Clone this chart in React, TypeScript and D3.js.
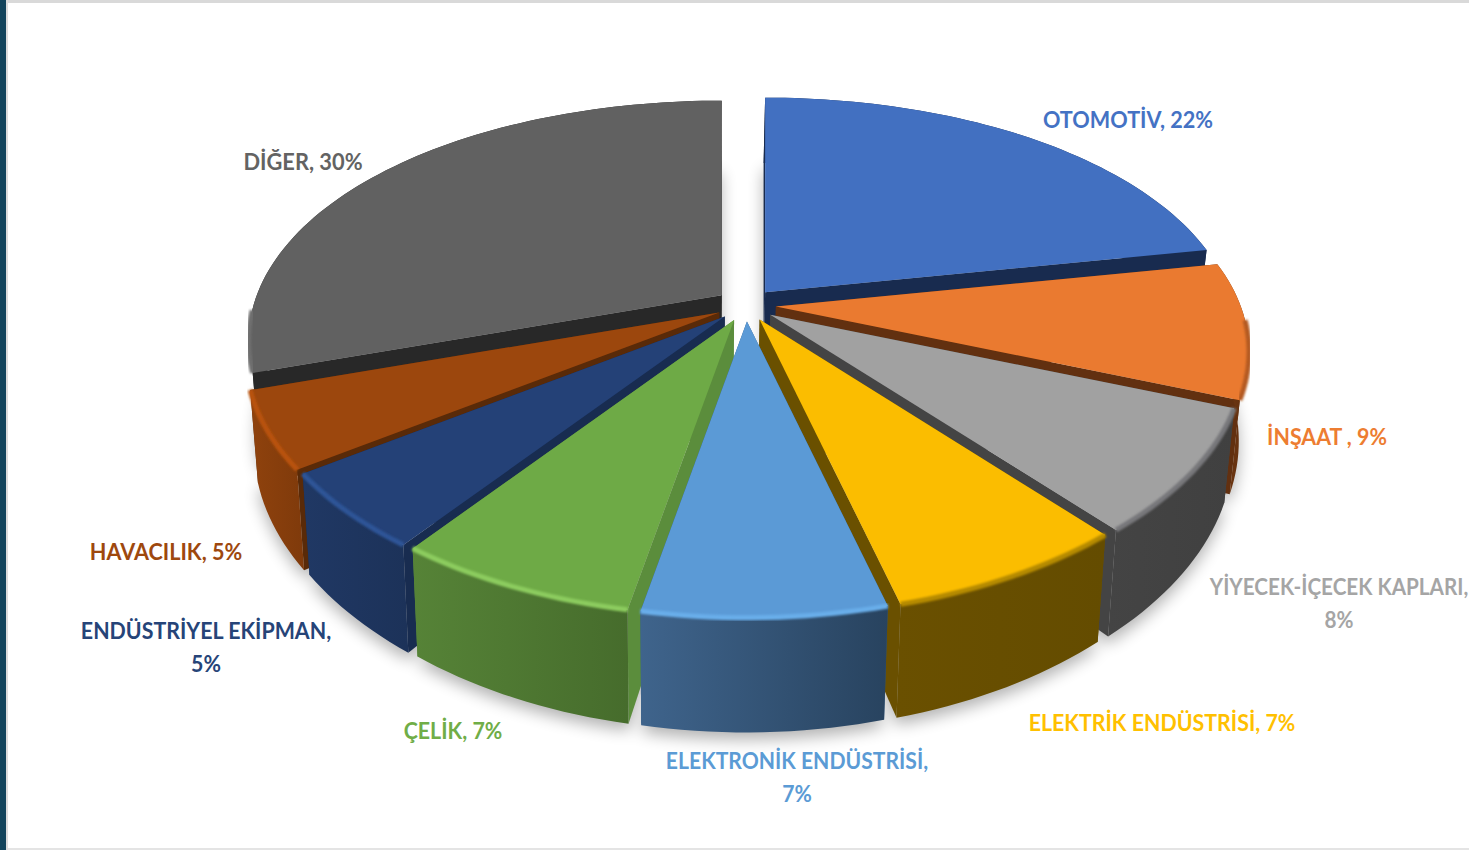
import React from "react";
import * as d3 from "d3";

// Market share by sector, clockwise from twelve o'clock
const sectors = ["OTOMOTİV", "İNŞAAT ", "YİYECEK-İÇECEK KAPLARI", "ELEKTRİK ENDÜSTRİSİ", "ELEKTRONİK ENDÜSTRİSİ", "ÇELİK", "ENDÜSTRİYEL EKİPMAN", "HAVACILIK", "DİĞER"];
const shares = [22, 9, 8, 7, 7, 7, 5, 5, 30];

// Per-slice palette
const topColors = ["#4270c1", "#ea7a30", "#a1a1a1", "#fbbd00", "#5b9ad6", "#6eaa46", "#244177", "#9c470d", "#616161"];
const labelColors = ["#4472c4", "#ed7d31", "#a5a5a5", "#ffc000", "#5b9bd5", "#70ad47", "#264478", "#9e480e", "#636363"];
const sideColors = ["#182b4f", "#623010", "#444444", "#6a5000", "#2f5a85", "#5b8d3c", "#182c50", "#592a08", "#282828"];
const wallLight = ["#182b4f", "#7a3c12", "#444444", "#6a5000", "#3f648c", "#568337", "#203864", "#8f420d", "#282828"];
const wallDark = ["#182b4f", "#5f2f10", "#404040", "#644c00", "#28435f", "#466c2c", "#1c3259", "#7f3a0b", "#282828"];
const bevelColors = ["#4f80d4", "#b45a20", "#77777a", "#b58a00", "#69aeea", "#8ccc5f", "#2f5597", "#b9530f", "#6f6f6f"];

// Label layout: centre x, horizontal squeeze and one baseline per line
const labelLines = [
  { x: 1128, squeeze: 0.94, lines: [[0, 128]] },
  { x: 1327, squeeze: 0.93, lines: [[0, 445]] },
  { x: 1339, squeeze: 0.9, lines: [[1, 595], [2, 628]] },
  { x: 1162, squeeze: 0.93, lines: [[0, 731]] },
  { x: 797, squeeze: 0.92, lines: [[1, 769], [2, 802]] },
  { x: 453, squeeze: 0.93, lines: [[0, 739]] },
  { x: 206, squeeze: 0.93, lines: [[1, 639], [2, 672]] },
  { x: 166, squeeze: 0.94, lines: [[0, 560]] },
  { x: 303, squeeze: 0.95, lines: [[0, 170]] },
];

const WIDTH = 1469;
const HEIGHT = 850;
const cx = 746;
const cy = 305;
const radiusX = 465;
const radiusY = 235;
const tiltX = 0.185;
const tiltY = 0.207;
const explodeX = 30;
const explodeY = 16.4;
const vanishX = 680;
const shrink = 0.018;
const depth0 = 85;
const depthSlope = 0.095;

type Pt = [number, number];

// Rim point of the un-exploded disc, with perspective foreshortening
const rim = (theta: number): Pt => {
  const u = Math.sin(theta);
  const v = -Math.cos(theta);
  return [cx + (radiusX * u) / (1 - tiltX * v), cy + (radiusY * v) / (1 - tiltY * v)];
};
// Drop a point on the top face to the matching point on the bottom face
const drop = ([x, y]: Pt): Pt => [vanishX + (x - vanishX) * (1 - shrink), y + depth0 + depthSlope * (y - cy)];

const line = d3.line<Pt>();
const arcs = d3.pie<number>().sort(null)(shares);

const slices = arcs.map((a, i) => {
  const mid = (a.startAngle + a.endAngle) / 2;
  const off: Pt = [explodeX * Math.sin(mid), -explodeY * Math.cos(mid)];
  const n = Math.max(8, Math.round((a.endAngle - a.startAngle) * 40));
  const angles = d3.range(n + 1).map((k) => a.startAngle + ((a.endAngle - a.startAngle) * k) / n);
  const arcTop: Pt[] = angles.map((t) => {
    const [x, y] = rim(t);
    return [x + off[0], y + off[1]] as Pt;
  });
  const arcBottom = arcTop.map(drop);
  const apex: Pt = [cx + off[0], cy + off[1]];
  const apexBottom = drop(apex);
  const first = arcTop[0];
  const last = arcTop[n];
  // Only the rim facing the viewer catches the bevel light
  const lit = arcTop.filter((_, k) => Math.cos(angles[k]) < -0.05);
  return {
    i,
    order: -Math.cos(mid),
    top: line([apex, ...arcTop])! + "Z",
    floor: line([apexBottom, ...arcBottom])! + "Z",
    outer: line([...arcTop, ...[...arcBottom].reverse()])! + "Z",
    sideA: line([apex, first, arcBottom[0], apexBottom])! + "Z",
    sideB: line([apex, last, arcBottom[n], apexBottom])! + "Z",
    edge: lit.length > 1 ? line(lit)! : null,
  };
});
const paintOrder = [...slices].sort((p, q) => p.order - q.order);

export default function App() {
  const font = "Lato, 'Open Sans', sans-serif";
  return (
    <svg
      width={WIDTH}
      height={HEIGHT}
      viewBox={`0 0 ${WIDTH} ${HEIGHT}`}
      style={{ position: "fixed", left: 0, top: 0, display: "block", background: "#fff" }}
    >
      <defs>
        <filter id="groundBlur" x="-20%" y="-20%" width="140%" height="140%">
          <feGaussianBlur stdDeviation="8" />
        </filter>
        <filter id="rimBlur" x="-5%" y="-20%" width="110%" height="140%">
          <feGaussianBlur stdDeviation="1.3" />
        </filter>
        {slices.map((s) => (
          <linearGradient key={s.i} id={`wall-${s.i}`} x1="0" x2="1" y1="0" y2="0">
            <stop offset="0" stopColor={wallLight[s.i]} />
            <stop offset="1" stopColor={wallDark[s.i]} />
          </linearGradient>
        ))}
      </defs>

      {/* Window frame */}
      <rect x={0} y={0} width={WIDTH} height={HEIGHT} fill="#ffffff" />
      <rect x={0} y={0} width={WIDTH} height={3} fill="#d9d9d9" />
      <rect x={0} y={848} width={WIDTH} height={2} fill="#e4e4e4" />
      <rect x={6} y={0} width={2} height={HEIGHT} fill="#dcdcdc" />
      <rect x={0} y={0} width={6} height={HEIGHT} fill="#12445c" />

      {/* Soft ground shadow */}
      <g filter="url(#groundBlur)" opacity={0.3} transform="translate(0,7)">
        {slices.map((s) => (
          <path key={s.i} d={s.floor} fill="#000" />
        ))}
      </g>

      {paintOrder.map((s) => (
        <g key={s.i}>
          <path d={s.sideA} fill={sideColors[s.i]} />
          <path d={s.sideB} fill={sideColors[s.i]} />
          <path d={s.outer} fill={`url(#wall-${s.i})`} />
          <path d={s.top} fill={topColors[s.i]} />
          {s.edge && <path d={s.edge} fill="none" stroke={bevelColors[s.i]} strokeWidth={5} filter="url(#rimBlur)" />}
        </g>
      ))}

      {sectors.map((name, i) => {
        const text = `${name}, ${shares[i]}%`;
        const head = `${name},`;
        const tail = `${shares[i]}%`;
        return labelLines[i].lines.map(([kind, y]) => (
          <text
            key={`${i}-${y}`}
            transform={`translate(${labelLines[i].x},${y}) scale(${labelLines[i].squeeze},1)`}
            textAnchor="middle"
            fontFamily={font}
            fontWeight={700}
            fontSize={23}
            fill={labelColors[i]}
          >
            {kind === 0 ? text : kind === 1 ? head : tail}
          </text>
        ));
      })}
    </svg>
  );
}
